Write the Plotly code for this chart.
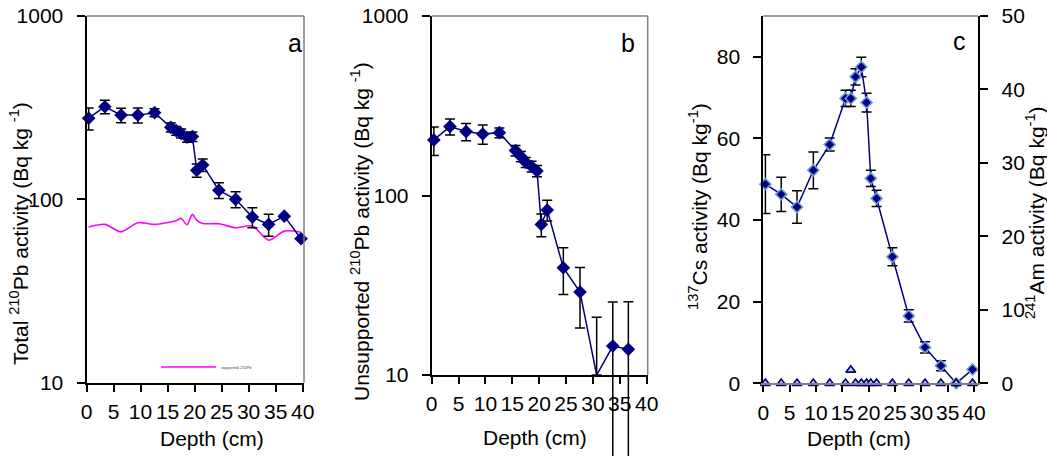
import numpy as np
import plotly.graph_objects as go

W, H = 1047, 456

# Sample mid-depths (cm)
depth = [0.4, 3.4, 6.4, 9.5, 12.6, 15.6, 16.6, 17.5, 18.6, 19.6, 20.4, 21.5,
         24.5, 27.6, 30.7, 33.7, 36.6, 39.7]

# (a) total and supported 210Pb (Bq/kg)
pb_total = [277, 320, 288, 288, 297, 247, 237, 229, 218, 220, 144, 154,
            112, 100, 80, 73, 81, 61]
pb_total_err = [38, 27, 26, 27, 15, 14, 13, 13, 13, 13, 12, 12,
                11, 10, 10, 10, 0, 0]
pb_supported = [70.6, 73.0, 66.5, 74.5, 73.0, 75.2, 76.4, 78.7, 72.7, 82.8,
                77.1, 73.9, 73.6, 70.0, 71.5, 59.9, 67.1, 66.2]

# (b) unsupported 210Pb (Bq/kg)
pb_unsup = [204, 242, 227, 220, 224, 178, 165, 153, 145, 137, 69, 83,
            39.6, 29, 10, 14.5, 13.9, None]
pb_unsup_err = [37, 25, 25, 27, 14, 12, 11, 10, 10, 10, 10, 11,
                11.5, 10.7, 11, 11, 11.7, None]

# (c) 137Cs and 241Am (Bq/kg)
cs137 = [48.8, 46.3, 43.2, 52.2, 58.5, 69.8, 69.8, 75.1, 77.5, 68.8, 50.2, 45.3,
         31.0, 16.5, 8.8, 4.3, 0, 3.4]
cs137_err = [7.2, 4.2, 4.0, 4.5, 1.6, 2.0, 2.0, 2.0, 2.4, 2.3, 2.0, 2.0,
             2.2, 1.5, 1.4, 1.2, 0, 0]
am241 = [0, 0, 0, 0, 0, 0, 1.8, 0, 0, 0, 0, 0, 0, 0, 0, 0, 0, 0]

depth_ticks = [0, 5, 10, 15, 20, 25, 30, 35, 40]
log_ticks = [10, 100, 1000]
cs_ticks = [0, 20, 40, 60, 80]
am_ticks = [0, 10, 20, 30, 40, 50]

NAVY = "#000080"
FONT = "Arial, Liberation Sans, sans-serif"
FS = 21
LOG_FLOOR = 10
LOG_RANGE = [1, 3]


def px_x(p):
    return p / W


def px_y(p):
    return 1 - p / H


# plot-area edges in pixels
A_LEFT, A_RIGHT, A_TOP, A_BOT = 86.5, 304, 16, 382.7
B_LEFT, B_RIGHT, B_TOP, B_BOT = 431.7, 647.7, 16, 375
C_LEFT, C_RIGHT, C_TOP, C_BOT = 763.3, 978.3, 16, 383.3

ya_dom = [px_y(A_BOT), px_y(A_TOP)]
yb_dom = [px_y(B_BOT), px_y(B_TOP)]
yc_dom = [px_y(C_BOT), px_y(C_TOP)]

# panel b markers and whiskers sit on a hidden twin of its log axis that
# reaches the bottom of the figure, so long whiskers run past the axis
decade_px = (B_BOT - B_TOP) / (LOG_RANGE[1] - LOG_RANGE[0])
b_ext_low = LOG_RANGE[0] - (H - B_BOT) / decade_px

fig = go.Figure()

# ---- panel a ----
fig.add_trace(go.Scatter(
    x=depth, y=pb_supported, mode="lines", name="supported 210Pb",
    line=dict(color="#FF00FF", width=1.6, shape="spline", smoothing=0.8),
    xaxis="x", yaxis="y", showlegend=True))
fig.add_trace(go.Scatter(
    x=depth, y=pb_total, mode="lines+markers", showlegend=False,
    line=dict(color=NAVY, width=1.5),
    marker=dict(symbol="diamond", size=10.5, color=NAVY, opacity=1,
                line=dict(width=0)),
    error_y=dict(type="data", array=pb_total_err, color="black",
                 thickness=1.5, width=5),
    cliponaxis=False, xaxis="x", yaxis="y"))

# ---- panel b ----
ub = np.array([np.nan if v is None else v for v in pb_unsup], dtype=float)
ue = np.array([np.nan if v is None else v for v in pb_unsup_err], dtype=float)
# lower whiskers that would cross zero cannot be shown on a log axis
ue_lo = np.where(ub - ue > 0, ue, ub - LOG_FLOOR)
msize_b = np.where(ub > LOG_FLOOR, 10.5, 0).tolist()
fig.add_trace(go.Scatter(
    x=depth, y=ub, mode="lines", showlegend=False,
    line=dict(color=NAVY, width=1.5), xaxis="x2", yaxis="y2"))
fig.add_trace(go.Scatter(
    x=depth, y=ub, mode="markers", showlegend=False,
    marker=dict(symbol="diamond", size=msize_b, color=NAVY, opacity=1,
                line=dict(width=0)),
    error_y=dict(type="data", array=ue, arrayminus=ue_lo, color="black",
                 thickness=1.5, width=5),
    cliponaxis=False, xaxis="x2", yaxis="y6"))

# ---- panel c ----
fig.add_trace(go.Scatter(
    x=depth, y=cs137, mode="lines+markers", showlegend=False,
    line=dict(color=NAVY, width=1.5),
    marker=dict(symbol="diamond", size=8.5, color=NAVY,
                line=dict(color="#6E9BD6", width=1.6)),
    error_y=dict(type="data", array=cs137_err, color="black",
                 thickness=1.5, width=5),
    cliponaxis=False, xaxis="x3", yaxis="y3"))
fig.add_trace(go.Scatter(
    x=depth, y=am241, mode="markers", showlegend=False,
    marker=dict(symbol="triangle-up", size=8.5, color="#B9CDEB",
                line=dict(color=NAVY, width=1.7)),
    cliponaxis=False, xaxis="x3", yaxis="y4"))

tickfont = dict(family=FONT, size=FS, color="black")

common_x = dict(tickmode="array", tickvals=depth_ticks, ticks="outside",
                ticklen=7, tickwidth=1.5, tickcolor="black", showgrid=False,
                zeroline=False, showline=True, linecolor="black", linewidth=2,
                tickfont=tickfont, ticklabelstandoff=2, automargin=False)
common_y = dict(ticks="outside", ticklen=8, tickwidth=1.5, tickcolor="black",
                showgrid=False, zeroline=False, showline=True,
                linecolor="black", linewidth=2, tickfont=tickfont,
                ticklabelstandoff=9, automargin=False)

fig.update_layout(
    width=W, height=H, margin=dict(l=0, r=0, t=0, b=0, autoexpand=False),
    paper_bgcolor="white", plot_bgcolor="rgba(0,0,0,0)",
    font=dict(family=FONT, color="black"),
    xaxis=dict(common_x, domain=[px_x(A_LEFT), px_x(A_RIGHT)],
               range=[0, 40.25], anchor="y"),
    yaxis=dict(common_y, type="log", domain=ya_dom, range=LOG_RANGE,
               tickvals=log_ticks, ticktext=[str(v) for v in log_ticks],
               anchor="x"),
    xaxis2=dict(common_x, domain=[px_x(B_LEFT), px_x(B_RIGHT)],
                range=[0, 40.2], anchor="y2"),
    yaxis2=dict(common_y, type="log", domain=yb_dom, range=LOG_RANGE,
                tickvals=log_ticks, ticktext=[str(v) for v in log_ticks],
                anchor="x2"),
    yaxis6=dict(type="log", domain=[0, px_y(B_TOP)],
                range=[b_ext_low, LOG_RANGE[1]], visible=False,
                anchor="x2", automargin=False),
    xaxis3=dict(common_x, domain=[px_x(C_LEFT), px_x(C_RIGHT)],
                range=[0, 40.8], anchor="y3", linecolor="#808080"),
    yaxis3=dict(common_y, domain=yc_dom, range=[0, 90], tickvals=cs_ticks,
                anchor="x3"),
    yaxis4=dict(common_y, domain=yc_dom, range=[0, 50], tickvals=am_ticks,
                anchor="x3", overlaying="y3", side="right"),
    # inner half of the cross-style ticks on the 241Am axis
    yaxis5=dict(domain=yc_dom, range=[0, 50], tickmode="array",
                tickvals=am_ticks, ticks="inside", ticklen=6, tickwidth=1.5,
                tickcolor="black", showticklabels=False, showgrid=False,
                zeroline=False, showline=False, anchor="x3",
                overlaying="y3", side="right", automargin=False),
    legend=dict(x=px_x(156), y=px_y(367), xanchor="left", yanchor="middle",
                bgcolor="rgba(0,0,0,0)", font=dict(family=FONT, size=4,
                                                   color="#444444"),
                itemwidth=55, tracegroupgap=0),
)

# grey plot-area borders
grey = dict(color="#808080", width=1.5)
for xr, yr in (("x", "y"), ("x2", "y2")):
    fig.add_shape(type="line", xref=f"{xr} domain", yref=f"{yr} domain",
                  x0=0, x1=1, y0=1, y1=1, line=grey)
    fig.add_shape(type="line", xref=f"{xr} domain", yref=f"{yr} domain",
                  x0=1, x1=1, y0=0, y1=1, line=grey)
fig.add_shape(type="line", xref="x3 domain", yref="y3 domain",
              x0=0, x1=1, y0=1, y1=1, line=grey)

title_font = dict(family=FONT, size=FS, color="black")
annots = [
    ("Total <sup>210</sup>Pb activity (Bq kg <sup>-1</sup>)", 19, 234, -90),
    ("Unsupported <sup>210</sup>Pb activity (Bq kg <sup>-1</sup>)", 360, 232, -90),
    ("<sup>137</sup>Cs activity (Bq kg<sup>-1</sup>)", 698, 207, -90),
    ("<sup>241</sup>Am activity (Bq kg<sup>-1</sup>)", 1035, 213, -90),
    ("Depth (cm)", 211.7, 438.5, 0),
    ("Depth (cm)", 535, 437.5, 0),
    ("Depth (cm)", 858.5, 438.5, 0),
]
for text, x, y, ang in annots:
    fig.add_annotation(text=text, x=px_x(x), y=px_y(y), xref="paper",
                       yref="paper", xanchor="center", yanchor="middle",
                       textangle=ang, showarrow=False, font=title_font)

for letter, x, y in (("a", 295, 43), ("b", 628, 43), ("c", 959, 41)):
    fig.add_annotation(text=letter, x=px_x(x), y=px_y(y), xref="paper",
                       yref="paper", xanchor="center", yanchor="middle",
                       showarrow=False, font=dict(family=FONT, size=25,
                                                  color="black"))

fig.write_html("out.html")
